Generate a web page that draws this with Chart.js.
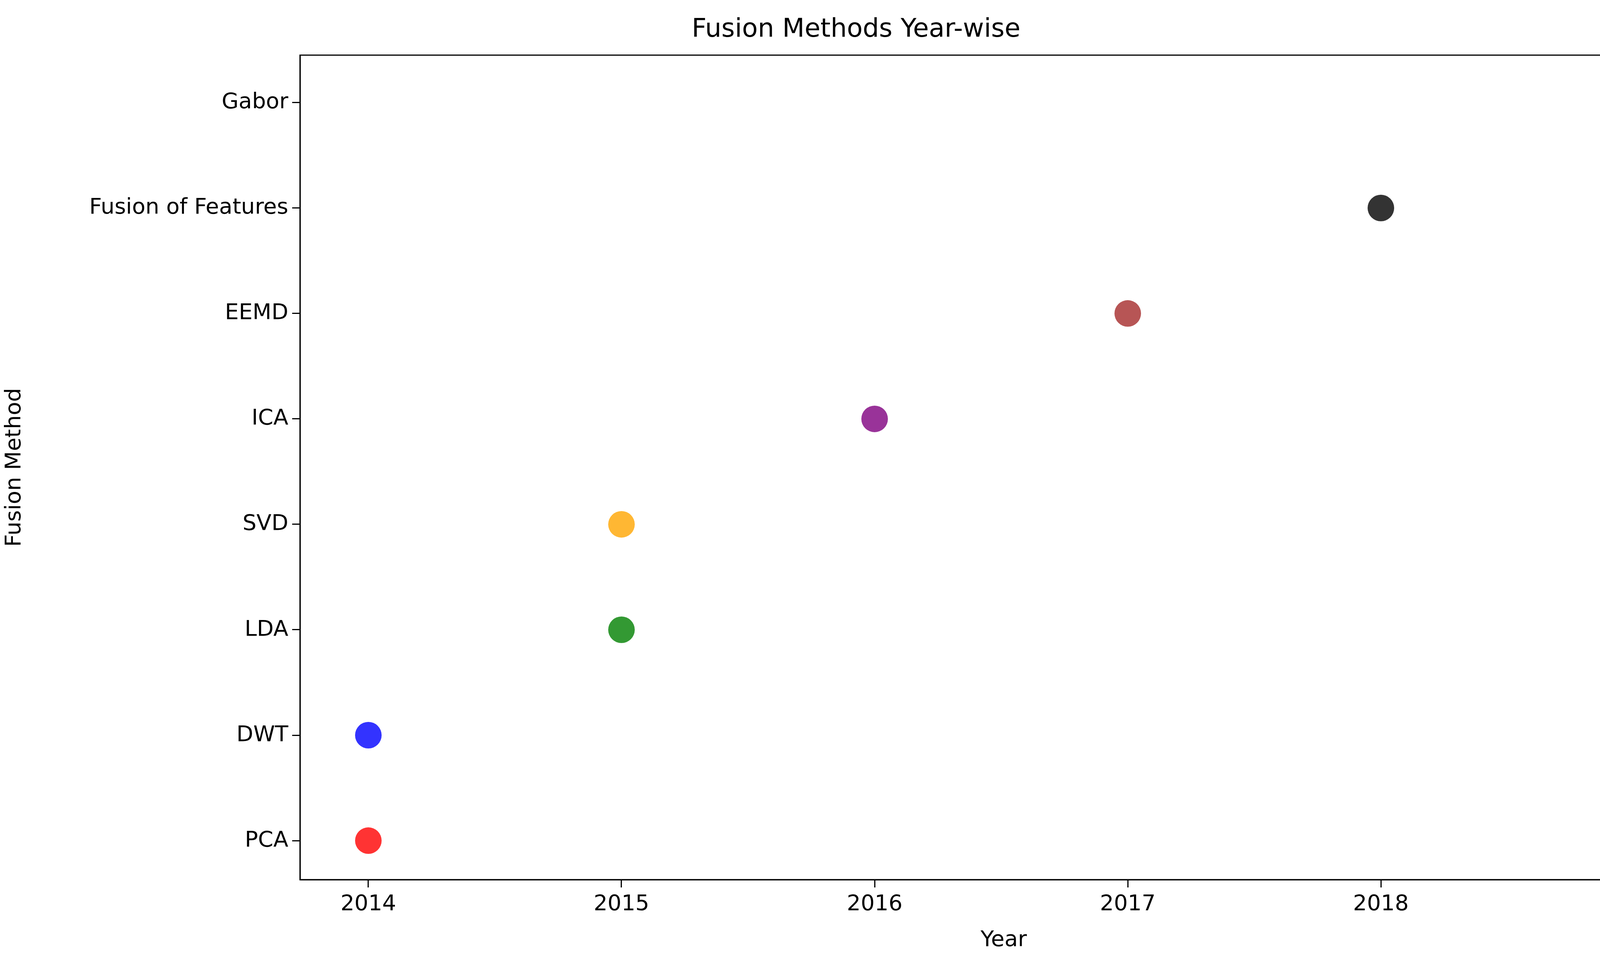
<!DOCTYPE html>
<html><head><meta charset="utf-8">
<script src="https://cdn.jsdelivr.net/npm/chart.js@4"></script>
<style>html,body{margin:0;padding:0;background:#fff;overflow:hidden}canvas{display:block}</style>
</head><body><canvas id="c" width="4405" height="2446" style="width:4405px;height:2446px"></canvas>
<script>
const methods = ["PCA","DWT","LDA","SVD","ICA","EEMD","Fusion of Features","Gabor"];
const years = [2014,2014,2015,2015,2016,2017,2018,2019];
const colors = ["rgba(255,0,0,0.8)","rgba(0,0,255,0.8)","rgba(0,128,0,0.8)","rgba(255,165,0,0.8)","rgba(128,0,128,0.8)","rgba(165,42,42,0.8)","rgba(0,0,0,0.8)","rgba(128,128,128,0.8)"];
const frame = {id:'frame',afterDraw(ch){const a=ch.chartArea,c=ch.ctx;c.save();c.strokeStyle='#000';c.lineWidth=3;c.strokeRect(a.left,a.top,a.right-a.left,a.bottom-a.top);c.restore();}};
const F = "'DejaVu Sans', sans-serif";
new Chart(document.getElementById('c'),{
 type:'scatter',
 data:{datasets:[{data:methods.map((m,i)=>({x:years[i],y:i})),backgroundColor:colors,borderWidth:0,pointRadius:34,pointHoverRadius:34,clip:false}]},
 options:{responsive:false,devicePixelRatio:1,animation:false,
  layout:{padding:{top:7,right:22}},
  plugins:{legend:{display:false},tooltip:{enabled:false},
   title:{display:true,text:'Fusion Methods Year-wise',color:'#000',font:{family:F,size:66,weight:'normal'},padding:{top:30,bottom:25}}},
  scales:{
   x:{type:'linear',min:2013.73,max:2019.29,
    afterBuildTicks(s){s.ticks=[2014,2015,2016,2017,2018,2019].map(v=>({value:v}));},
    ticks:{callback:v=>String(v),color:'#000',font:{family:F,size:56},padding:10,maxRotation:0,autoSkip:false},
    grid:{drawOnChartArea:false,drawTicks:true,tickLength:20,color:'#000',lineWidth:3},
    border:{color:'#000',width:3},
    title:{display:true,text:'Year',color:'#000',font:{family:F,size:56},padding:{top:4}},
    afterFit(s){s.height=193;}},
   y:{type:'linear',min:-0.37,max:7.45,
    afterBuildTicks(s){s.ticks=methods.map((m,i)=>({value:i}));},
    ticks:{callback:v=>methods[v],color:'#000',font:{family:F,size:56},padding:10,autoSkip:false},
    grid:{drawOnChartArea:false,drawTicks:true,tickLength:20,color:'#000',lineWidth:3},
    border:{color:'#000',width:3},
    title:{display:true,text:'Fusion Method',color:'#000',font:{family:F,size:56},padding:{bottom:0}},
    afterFit(s){s.width=768;}}
  }},
 plugins:[frame]
});
</script></body></html>
